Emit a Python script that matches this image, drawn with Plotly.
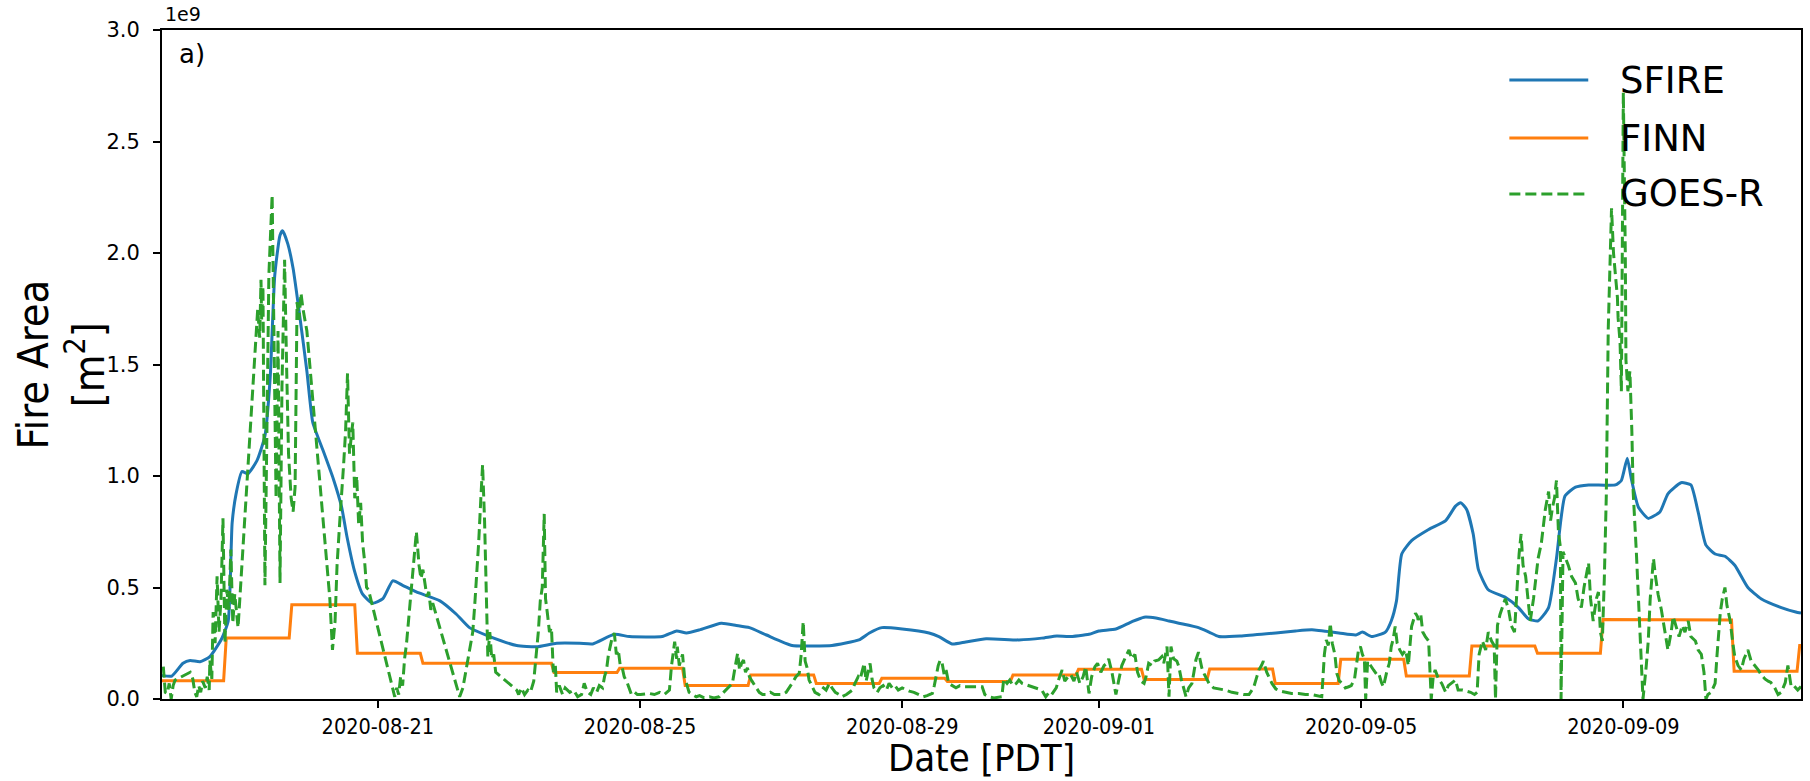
import numpy as np
import pandas as pd
import plotly.graph_objects as go

# ---------------- data (fire area in units of 1e9 m^2) ----------------
START = "2020-08-17 17:00"   # time origin (PDT); x values are days since START
END_DAY = 25.0

sfire_day = [0.0, 0.15, 0.32, 0.43, 0.58, 0.73, 0.91, 1.01, 1.07, 1.13,
             1.22, 1.31, 1.45, 1.57, 1.65, 1.72, 1.80, 1.84, 1.92, 2.00,
             2.10, 2.21, 2.30, 2.45, 2.61, 2.74, 2.82, 2.94, 3.06, 3.21,
             3.37, 3.52, 3.67, 3.88, 4.24, 4.49, 4.69, 5.00, 5.41, 5.71,
             6.02, 6.37, 6.57, 6.90, 7.13, 7.63, 7.85, 8.00, 8.20, 8.53,
             8.76, 8.96, 9.22, 9.61, 9.92, 10.22, 10.63, 10.79, 10.98, 11.29,
             11.70, 11.85, 12.05, 12.26, 12.57, 13.07, 13.42, 13.65, 13.83, 14.14,
             14.29, 14.55, 14.79, 14.98, 15.16, 15.36, 15.51, 15.81, 15.97, 16.12,
             16.47, 16.99, 17.29, 17.54, 17.95, 18.21, 18.31, 18.45, 18.66, 18.75,
             18.83, 18.91, 19.06, 19.32, 19.58, 19.73, 19.81, 19.90, 20.00, 20.08,
             20.23, 20.49, 20.69, 20.84, 20.99, 21.15, 21.27, 21.40, 21.56, 21.76,
             22.17, 22.26, 22.35, 22.41, 22.52, 22.67, 22.85, 22.97, 23.17, 23.32,
             23.43, 23.55, 23.69, 23.84, 23.99, 24.19, 24.39, 24.70, 24.92, 25.0]
sfire_val = [0.106, 0.103, 0.16, 0.173, 0.167, 0.19, 0.27, 0.35, 0.79, 0.92,
             1.02, 1.01, 1.07, 1.18, 1.44, 1.90, 2.08, 2.10, 2.04, 1.93,
             1.72, 1.47, 1.24, 1.12, 0.99, 0.86, 0.73, 0.57, 0.47, 0.43,
             0.45, 0.53, 0.51, 0.48, 0.44, 0.38, 0.32, 0.28, 0.24, 0.234,
             0.25, 0.25, 0.247, 0.29, 0.28, 0.28, 0.305, 0.296, 0.31, 0.34,
             0.33, 0.32, 0.287, 0.24, 0.238, 0.24, 0.265, 0.296, 0.32, 0.314,
             0.296, 0.28, 0.247, 0.256, 0.27, 0.265, 0.273, 0.283, 0.28, 0.29,
             0.305, 0.314, 0.346, 0.367, 0.363, 0.35, 0.34, 0.32, 0.30, 0.28,
             0.283, 0.296, 0.305, 0.31, 0.296, 0.287, 0.30, 0.28, 0.30, 0.35,
             0.44, 0.65, 0.71, 0.76, 0.80, 0.865, 0.88, 0.85, 0.74, 0.58,
             0.49, 0.456, 0.41, 0.36, 0.35, 0.41, 0.63, 0.91, 0.95, 0.96,
             0.96, 0.98, 1.08, 0.99, 0.86, 0.81, 0.84, 0.92, 0.97, 0.96,
             0.84, 0.69, 0.65, 0.64, 0.60, 0.50, 0.45, 0.41, 0.39, 0.385]

# FINN: daily values, each one holds from its step day to the next step day
finn_step_day = [0.0, 0.94, 1.94, 2.94, 3.94, 4.94, 5.94, 6.94, 7.94, 8.94,
                 9.94, 10.94, 11.94, 12.94, 13.94, 14.94, 15.94, 16.94, 17.94, 18.94,
                 19.94, 20.94, 21.94, 22.94, 23.94, 24.94]
finn_val = [0.082, 0.274, 0.423, 0.205, 0.16, 0.16, 0.119, 0.138, 0.061, 0.108,
            0.070, 0.093, 0.078, 0.108, 0.133, 0.088, 0.134, 0.070, 0.178, 0.103,
            0.238, 0.205, 0.356, 0.354, 0.125, 0.240]

goes_day = [0.02, 0.05, 0.08, 0.11, 0.14, 0.17, 0.20, 0.43, 0.47, 0.50,
            0.53, 0.56, 0.59, 0.62, 0.66, 0.69, 0.72, 0.73, 0.76, 0.78,
            0.81, 0.84, 0.87, 0.90, 0.93, 0.96, 0.99, 1.02, 1.05, 1.08,
            1.11, 1.16, 1.46, 1.49, 1.51, 1.52, 1.54, 1.57, 1.60, 1.63,
            1.68, 1.71, 1.74, 1.77, 1.80, 1.83, 1.87, 1.90, 1.93, 1.97,
            2.00, 2.03, 2.06, 2.09, 2.12, 2.15, 2.18, 2.21, 2.56, 2.59,
            2.60, 2.64, 2.67, 2.71, 2.74, 2.77, 2.80, 2.83, 2.86, 2.88,
            2.91, 2.94, 2.97, 3.00, 3.03, 3.06, 3.09, 3.12, 3.15, 3.55,
            3.58, 3.61, 3.64, 3.67, 3.70, 3.73, 3.76, 3.79, 3.82, 3.85,
            3.88, 3.92, 3.95, 3.98, 4.01, 4.04, 4.07, 4.10, 4.13, 4.54,
            4.59, 4.63, 4.66, 4.69, 4.74, 4.77, 4.80, 4.83, 4.86, 4.89,
            4.92, 4.95, 4.97, 5.00, 5.03, 5.06, 5.09, 5.41, 5.44, 5.48,
            5.53, 5.58, 5.62, 5.67, 5.71, 5.74, 5.77, 5.80, 5.83, 5.85,
            5.88, 5.91, 5.94, 5.97, 6.00, 6.02, 6.06, 6.11, 6.15, 6.22,
            6.28, 6.34, 6.40, 6.44, 6.49, 6.54, 6.58, 6.63, 6.67, 6.72,
            6.75, 6.78, 6.81, 6.84, 6.87, 6.90, 6.93, 6.96, 6.99, 7.02,
            7.05, 7.10, 7.13, 7.16, 7.21, 7.25, 7.30, 7.43, 7.51, 7.59,
            7.66, 7.74, 7.77, 7.80, 7.82, 7.85, 7.86, 7.89, 7.94, 7.97,
            8.00, 8.04, 8.09, 8.15, 8.20, 8.27, 8.35, 8.42, 8.50, 8.70,
            8.74, 8.78, 8.81, 8.84, 8.87, 8.90, 8.93, 8.96, 9.00, 9.06,
            9.11, 9.16, 9.22, 9.28, 9.34, 9.38, 9.46, 9.52, 9.57, 9.61,
            9.67, 9.72, 9.75, 9.78, 9.81, 9.84, 9.87, 9.92, 9.96, 10.02,
            10.09, 10.13, 10.18, 10.22, 10.27, 10.33, 10.37, 10.44, 10.48, 10.53,
            10.57, 10.62, 10.65, 10.68, 10.71, 10.74, 10.77, 10.80, 10.83, 10.86,
            10.91, 10.95, 11.00, 11.05, 11.09, 11.14, 11.18, 11.23, 11.29, 11.40,
            11.47, 11.55, 11.61, 11.67, 11.75, 11.78, 11.81, 11.84, 11.87, 11.90,
            11.93, 11.96, 12.00, 12.05, 12.11, 12.17, 12.23, 12.31, 12.51, 12.55,
            12.61, 12.69, 12.77, 12.81, 12.84, 12.89, 12.93, 12.98, 13.03, 13.07,
            13.12, 13.42, 13.48, 13.53, 13.57, 13.64, 13.68, 13.73, 13.77, 13.82,
            13.86, 13.91, 13.95, 14.00, 14.05, 14.09, 14.14, 14.18, 14.23, 14.27,
            14.32, 14.37, 14.41, 14.44, 14.49, 14.52, 14.55, 14.59, 14.64, 14.70,
            14.75, 14.79, 14.84, 14.88, 14.93, 14.98, 15.01, 15.05, 15.10, 15.14,
            15.20, 15.25, 15.28, 15.33, 15.36, 15.39, 15.43, 15.48, 15.51, 15.55,
            15.62, 15.66, 15.71, 15.74, 15.77, 15.81, 15.86, 15.90, 15.97, 16.04,
            16.12, 16.22, 16.32, 16.42, 16.50, 16.58, 16.65, 16.70, 16.73, 16.77,
            16.80, 16.85, 16.88, 16.93, 16.99, 17.06, 17.14, 17.23, 17.34, 17.44,
            17.53, 17.64, 17.69, 17.73, 17.76, 17.79, 17.82, 17.85, 17.89, 17.92,
            17.96, 18.01, 18.05, 18.10, 18.14, 18.19, 18.22, 18.25, 18.28, 18.31,
            18.34, 18.36, 18.39, 18.43, 18.48, 18.53, 18.56, 18.60, 18.63, 18.68,
            18.72, 18.75, 18.78, 18.81, 18.84, 18.88, 18.92, 18.97, 19.01, 19.06,
            19.09, 19.12, 19.15, 19.16, 19.20, 19.23, 19.27, 19.32, 19.36, 19.39,
            19.42, 19.47, 19.52, 19.58, 19.62, 19.67, 19.73, 19.77, 19.84, 19.90,
            19.96, 20.02, 20.06, 20.09, 20.14, 20.19, 20.23, 20.28, 20.32, 20.34,
            20.37, 20.41, 20.46, 20.49, 20.54, 20.58, 20.63, 20.67, 20.70, 20.73,
            20.76, 20.80, 20.84, 20.87, 20.92, 20.96, 20.99, 21.04, 21.07, 21.10,
            21.15, 21.18, 21.21, 21.24, 21.27, 21.30, 21.33, 21.34, 21.37, 21.42,
            21.45, 21.50, 21.56, 21.60, 21.65, 21.69, 21.76, 21.79, 21.83, 21.88,
            21.91, 21.94, 21.97, 22.00, 22.03, 22.06, 22.09, 22.11, 22.14, 22.17,
            22.20, 22.21, 22.24, 22.26, 22.29, 22.32, 22.33, 22.36, 22.39, 22.42,
            22.44, 22.49, 22.52, 22.56, 22.59, 22.64, 22.67, 22.70, 22.75, 22.78,
            22.82, 22.87, 22.91, 22.94, 22.97, 23.02, 23.05, 23.10, 23.14, 23.19,
            23.23, 23.28, 23.32, 23.39, 23.43, 23.48, 23.52, 23.55, 23.58, 23.63,
            23.69, 23.72, 23.77, 23.80, 23.84, 23.87, 23.92, 23.96, 23.99, 24.04,
            24.09, 24.13, 24.19, 24.24, 24.30, 24.35, 24.39, 24.45, 24.50, 24.54,
            24.60, 24.65, 24.70, 24.76, 24.80, 24.83, 24.85, 24.89, 24.95, 25.00]
goes_val = [0.145, 0.03, 0.025, 0.07, 0.0, 0.06, 0.085, 0.12, 0.09, 0.03,
            0.01, 0.06, 0.03, 0.08, 0.05, 0.10, 0.04, 0.175, 0.09, 0.39,
            0.25, 0.55, 0.30, 0.45, 0.81, 0.25, 0.49, 0.40, 0.67, 0.34,
            0.47, 0.32, 1.75, 1.62, 1.88, 1.70, 1.85, 0.51, 1.20, 1.90,
            2.26, 1.50, 0.90, 1.65, 0.52, 1.40, 1.97, 1.50, 1.10, 0.90,
            0.84, 0.95, 1.78, 1.70, 1.82, 1.75, 1.70, 1.65, 0.45, 0.30,
            0.22, 0.35, 0.60, 0.79, 0.95, 1.05, 1.20, 1.46, 1.10, 1.15,
            1.24, 0.90, 1.00, 0.78, 0.88, 0.70, 0.62, 0.50, 0.49, 0.01,
            0.05, 0.02, 0.10, 0.06, 0.18, 0.25, 0.35, 0.45, 0.55, 0.62,
            0.75, 0.60, 0.54, 0.58, 0.52, 0.46, 0.48, 0.40, 0.43, 0.01,
            0.05, 0.12, 0.18, 0.22, 0.30, 0.42, 0.55, 0.70, 0.88, 1.05,
            0.80, 0.45, 0.19, 0.30, 0.18, 0.20, 0.12, 0.04, 0.02, 0.05,
            0.02, 0.04, 0.03, 0.08, 0.20, 0.30, 0.44, 0.50, 0.83, 0.45,
            0.38, 0.30, 0.32, 0.12, 0.15, 0.03, 0.06, 0.02, 0.05, 0.03,
            0.04, 0.01, 0.02, 0.07, 0.03, 0.02, 0.05, 0.03, 0.06, 0.05,
            0.10, 0.13, 0.20, 0.24, 0.28, 0.295, 0.20, 0.22, 0.15, 0.14,
            0.10, 0.07, 0.04, 0.02, 0.03, 0.02, 0.02, 0.025, 0.02, 0.03,
            0.02, 0.04, 0.145, 0.20, 0.257, 0.18, 0.235, 0.15, 0.20, 0.10,
            0.07, 0.03, 0.02, 0.01, 0.015, 0.005, 0.01, 0.005, 0.01, 0.07,
            0.14, 0.205, 0.13, 0.16, 0.175, 0.12, 0.14, 0.10, 0.08, 0.055,
            0.03, 0.02, 0.02, 0.03, 0.02, 0.02, 0.02, 0.03, 0.05, 0.07,
            0.10, 0.115, 0.20, 0.347, 0.17, 0.14, 0.085, 0.055, 0.03, 0.02,
            0.05, 0.04, 0.07, 0.05, 0.03, 0.02, 0.01, 0.02, 0.03, 0.04,
            0.07, 0.10, 0.09, 0.13, 0.16, 0.08, 0.12, 0.16, 0.09, 0.05,
            0.03, 0.05, 0.06, 0.04, 0.07, 0.05, 0.06, 0.04, 0.05, 0.035,
            0.03, 0.02, 0.01, 0.015, 0.025, 0.06, 0.115, 0.15, 0.175, 0.16,
            0.11, 0.13, 0.07, 0.06, 0.05, 0.06, 0.055, 0.055, 0.055, 0.02,
            0.01, 0.005, 0.01, 0.01, 0.09, 0.07, 0.085, 0.06, 0.07, 0.085,
            0.07, 0.04, 0.01, 0.03, 0.02, 0.05, 0.09, 0.13, 0.08, 0.10,
            0.11, 0.08, 0.12, 0.07, 0.10, 0.145, 0.025, 0.10, 0.145, 0.16,
            0.12, 0.15, 0.16, 0.18, 0.12, 0.06, 0.02, 0.08, 0.15, 0.19,
            0.22, 0.18, 0.20, 0.12, 0.08, 0.07, 0.10, 0.16, 0.15, 0.17,
            0.175, 0.19, 0.16, 0.235, 0.01, 0.235, 0.18, 0.17, 0.145, 0.085,
            0.01, 0.05, 0.07, 0.12, 0.175, 0.21, 0.14, 0.11, 0.07, 0.05,
            0.045, 0.04, 0.03, 0.025, 0.02, 0.02, 0.05, 0.10, 0.13, 0.15,
            0.17, 0.12, 0.10, 0.07, 0.045, 0.035, 0.03, 0.025, 0.025, 0.02,
            0.02, 0.015, 0.01, 0.20, 0.265, 0.24, 0.34, 0.25, 0.20, 0.115,
            0.08, 0.07, 0.05, 0.055, 0.06, 0.09, 0.15, 0.22, 0.235, 0.20,
            0.18, 0.0, 0.17, 0.15, 0.13, 0.11, 0.115, 0.074, 0.055, 0.12,
            0.16, 0.235, 0.27, 0.325, 0.25, 0.22, 0.20, 0.22, 0.15, 0.325,
            0.36, 0.385, 0.37, 0.355, 0.38, 0.30, 0.28, 0.26, 0.0, 0.10,
            0.13, 0.09, 0.07, 0.03, 0.06, 0.07, 0.085, 0.04, 0.04, 0.035,
            0.03, 0.02, 0.03, 0.20, 0.26, 0.22, 0.30, 0.26, 0.24, 0.0,
            0.33, 0.38, 0.42, 0.45, 0.40, 0.33, 0.30, 0.50, 0.65, 0.74,
            0.60, 0.55, 0.42, 0.35, 0.45, 0.55, 0.63, 0.70, 0.78, 0.85,
            0.93, 0.80, 0.86, 0.90, 0.98, 0.75, 0.68, 0.0, 0.66, 0.62,
            0.60, 0.55, 0.52, 0.45, 0.41, 0.50, 0.61, 0.45, 0.35, 0.45,
            0.48, 0.30, 0.26, 0.54, 0.91, 1.66, 1.95, 2.20, 2.00, 1.90,
            1.80, 1.71, 1.60, 1.38, 2.72, 2.00, 1.52, 1.38, 1.47, 1.20,
            0.93, 0.65, 0.45, 0.25, 0.0, 0.15, 0.26, 0.45, 0.63, 0.55,
            0.47, 0.40, 0.33, 0.28, 0.22, 0.30, 0.37, 0.32, 0.28, 0.33,
            0.30, 0.35, 0.28, 0.26, 0.22, 0.20, 0.12, 0.0, 0.02, 0.03,
            0.07, 0.20, 0.39, 0.45, 0.50, 0.42, 0.35, 0.25, 0.19, 0.15,
            0.13, 0.18, 0.22, 0.17, 0.15, 0.13, 0.11, 0.09, 0.08, 0.074,
            0.05, 0.02, 0.03, 0.074, 0.15, 0.10, 0.056, 0.06, 0.04, 0.056]

x_tick_dates = ["2020-08-21", "2020-08-25", "2020-08-29", "2020-09-01", "2020-09-05", "2020-09-09"]
y_tick_vals = [0.0, 0.5, 1.0, 1.5, 2.0, 2.5, 3.0]
y_tick_text = ["0.0", "0.5", "1.0", "1.5", "2.0", "2.5", "3.0"]
series_names = ["SFIRE", "FINN", "GOES-R"]
series_colors = ["#1f77b4", "#ff7f0e", "#2ca02c"]

# ---------------- build ----------------
t0 = pd.Timestamp(START)


def to_time(days):
    return t0 + pd.to_timedelta(np.asarray(days, dtype=float) * 86400.0, unit="s")


# FINN as a step line with a short ramp between daily values
RAMP = 0.04
finn_x, finn_y = [], []
for i, v in enumerate(finn_val):
    s = finn_step_day[i] + (RAMP if i > 0 else 0.0)
    e = finn_step_day[i + 1] if i + 1 < len(finn_step_day) else END_DAY
    finn_x += [s, e]
    finn_y += [v, v]

FONT = "DejaVu Sans"
FONT_C = "DejaVu Sans Condensed, Liberation Sans Narrow, Arial Narrow, DejaVu Sans"

fig = go.Figure()
fig.add_trace(go.Scatter(x=to_time(sfire_day), y=sfire_val, mode="lines", name=series_names[0],
                         line=dict(color=series_colors[0], width=3, shape="spline", smoothing=0.5),
                         showlegend=False))
fig.add_trace(go.Scatter(x=to_time(finn_x), y=finn_y, mode="lines", name=series_names[1],
                         line=dict(color=series_colors[1], width=3), showlegend=False))
fig.add_trace(go.Scatter(x=to_time(goes_day), y=goes_val, mode="lines", name=series_names[2],
                         line=dict(color=series_colors[2], width=3, dash="11px,5px"),
                         showlegend=False))

L, R, T, B = 162, 7, 30, 82
W, H = 1810, 781
PW, PH = W - L - R, H - T - B


def px_x(px):
    return (px - L) / PW


def px_y(py):
    return (H - B - py) / PH


fig.update_layout(
    width=W, height=H,
    margin=dict(l=L, r=R, t=T, b=B, pad=0),
    paper_bgcolor="white", plot_bgcolor="white",
    font=dict(family=FONT, color="black"),
    xaxis=dict(range=[to_time(0.0), to_time(END_DAY)], type="date",
               tickvals=pd.to_datetime(x_tick_dates), ticktext=x_tick_dates,
               showgrid=False, zeroline=False, showline=True, linecolor="black", linewidth=1.8,
               mirror=True, ticks="outside", ticklen=7, tickwidth=1.5, tickcolor="black",
               tickfont=dict(family=FONT_C, size=21.5, color="black"), ticklabelstandoff=0),
    yaxis=dict(range=[0, 3.0], tickvals=y_tick_vals, ticktext=y_tick_text,
               showgrid=False, zeroline=False, showline=True, linecolor="black", linewidth=1.8,
               mirror=True, ticks="outside", ticklen=7, tickwidth=1.5, tickcolor="black",
               tickfont=dict(family=FONT, size=21, color="black"), ticklabelstandoff=9),
)

# legend (matplotlib style: long line samples, no frame)
leg_rows = [80, 138, 194]
shapes = []
annotations = []
for name, col, yy in zip(series_names, series_colors, leg_rows):
    shapes.append(dict(type="line", xref="paper", yref="paper",
                       x0=px_x(1511), x1=px_x(1590), y0=px_y(yy), y1=px_y(yy),
                       line=dict(color=col, width=3, dash="11px,5px" if name == "GOES-R" else "solid")))
    annotations.append(dict(xref="paper", yref="paper", x=px_x(1620), y=px_y(yy),
                            xanchor="left", yanchor="middle", text=name, showarrow=False,
                            font=dict(family=FONT, size=37, color="black")))

annotations += [
    dict(xref="paper", yref="paper", x=px_x(177), y=px_y(54), xanchor="left", yanchor="middle",
         text="a)", showarrow=False, font=dict(family=FONT, size=26, color="black")),
    dict(xref="paper", yref="paper", x=px_x(163), y=px_y(27), xanchor="left", yanchor="bottom",
         text="1e9", showarrow=False, font=dict(family=FONT, size=19, color="black")),
    dict(xref="paper", yref="paper", x=0.5, y=px_y(781), xanchor="center", yanchor="bottom",
         text="Date [PDT]", showarrow=False, borderpad=0,
         font=dict(family=FONT_C, size=38, color="black")),
    dict(xref="paper", yref="paper", x=px_x(60), y=0.5, xanchor="center", yanchor="middle",
         text="Fire Area<br>[m<sup>2</sup>]", textangle=-90, showarrow=False,
         font=dict(family=FONT_C, size=43, color="black")),
]
fig.update_layout(shapes=shapes, annotations=annotations)

fig.write_html("out.html")
